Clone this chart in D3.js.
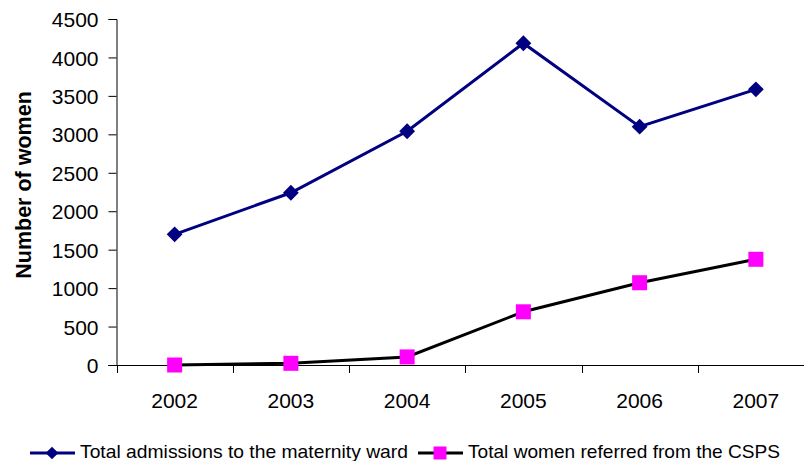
<!DOCTYPE html>
<html>
<head>
<meta charset="utf-8">
<script src="https://cdn.jsdelivr.net/npm/d3@7"></script>
<style>
  html, body { margin: 0; padding: 0; background: #fff; }
  svg { display: block; }
  text { font-family: "Liberation Sans", Arial, sans-serif; fill: #000; }
</style>
</head>
<body>
<svg id="chart" width="804" height="461"></svg>
<script>
// Yearly counts
const years = ["2002", "2003", "2004", "2005", "2006", "2007"];
const admissions = [1700, 2240, 3040, 4185, 3100, 3585];
const referred = [0, 22, 105, 692, 1070, 1375];
const yTicks = [0, 500, 1000, 1500, 2000, 2500, 3000, 3500, 4000, 4500];
const seriesNames = ["Total admissions to the maternity ward", "Total women referred from the CSPS"];

const svg = d3.select("#chart");
const plotLeft = 116.5, plotRight = 814, plotTop = 19, plotBottom = 365;

const x = d3.scaleBand().domain(years).range([plotLeft, plotRight]);
const y = d3.scaleLinear().domain([0, 4500]).range([plotBottom, plotTop]);
const cx = d => x(d) + x.bandwidth() / 2;

// Y axis
const yAxis = svg.append("g")
  .attr("transform", `translate(${plotLeft},0)`)
  .call(d3.axisLeft(y).tickValues(yTicks).tickSize(8).tickPadding(10).tickFormat(d3.format("d")));
yAxis.selectAll("text").style("font-size", "21px").attr("dy", "0.36em");

// X axis: ticks sit on band edges, labels in band centres
const xAxisG = svg.append("g").attr("transform", `translate(0,${plotBottom})`);
xAxisG.append("line").attr("x1", plotLeft - 8).attr("x2", plotRight).attr("y1", 0.5).attr("y2", 0.5)
  .attr("stroke", "#000");
const edges = years.map(d => x(d)).concat([plotRight]);
xAxisG.selectAll("line.tick").data(edges).join("line").attr("class", "tick")
  .attr("x1", d => Math.round(d) + 0.5).attr("x2", d => Math.round(d) + 0.5)
  .attr("y1", 0).attr("y2", 8).attr("stroke", "#000");
xAxisG.selectAll("text").data(years).join("text")
  .attr("x", d => cx(d)).attr("y", 43)
  .attr("text-anchor", "middle").style("font-size", "21px").text(d => d);
svg.selectAll(".domain").attr("stroke", "#000");
svg.selectAll(".tick line").attr("stroke", "#000");

// Y title
svg.append("text")
  .attr("transform", "translate(31,185) rotate(-90)")
  .attr("text-anchor", "middle")
  .style("font-size", "21.5px").style("font-weight", "bold")
  .text("Number of women");

const line = d3.line().x((d, i) => cx(years[i])).y(d => y(d));

// Admissions series
svg.append("path").datum(admissions).attr("d", line)
  .attr("fill", "none").attr("stroke", "#000080").attr("stroke-width", 3);
const diamond = d3.symbol().type(d3.symbolSquare).size(125);
svg.selectAll("path.dia").data(admissions).join("path").attr("class", "dia")
  .attr("d", diamond)
  .attr("transform", (d, i) => `translate(${cx(years[i])},${y(d)}) rotate(45)`)
  .attr("fill", "#000080");

// Referred series
svg.append("path").datum(referred).attr("d", line)
  .attr("fill", "none").attr("stroke", "#000").attr("stroke-width", 3);
svg.selectAll("rect.sq").data(referred).join("rect").attr("class", "sq")
  .attr("x", (d, i) => cx(years[i]) - 7.5).attr("y", d => y(d) - 7.5)
  .attr("width", 15).attr("height", 15).attr("fill", "#ff00ff");

// Legend
const legY = 453;
const leg = svg.append("g");
leg.append("line").attr("x1", 30).attr("x2", 75).attr("y1", legY).attr("y2", legY)
  .attr("stroke", "#000080").attr("stroke-width", 3);
leg.append("path").attr("d", d3.symbol().type(d3.symbolSquare).size(80))
  .attr("transform", `translate(52,${legY}) rotate(45)`).attr("fill", "#000080");
leg.append("text").attr("x", 80).attr("y", legY + 5)
  .attr("textLength", 328).attr("lengthAdjust", "spacingAndGlyphs")
  .style("font-size", "19px").text(seriesNames[0]);

leg.append("line").attr("x1", 418).attr("x2", 463).attr("y1", legY).attr("y2", legY)
  .attr("stroke", "#000").attr("stroke-width", 3);
leg.append("rect").attr("x", 433.5).attr("y", legY - 6.5).attr("width", 13).attr("height", 13)
  .attr("fill", "#ff00ff");
leg.append("text").attr("x", 468).attr("y", legY + 5)
  .attr("textLength", 312).attr("lengthAdjust", "spacingAndGlyphs")
  .style("font-size", "19px").text(seriesNames[1]);
</script>
</body>
</html>
